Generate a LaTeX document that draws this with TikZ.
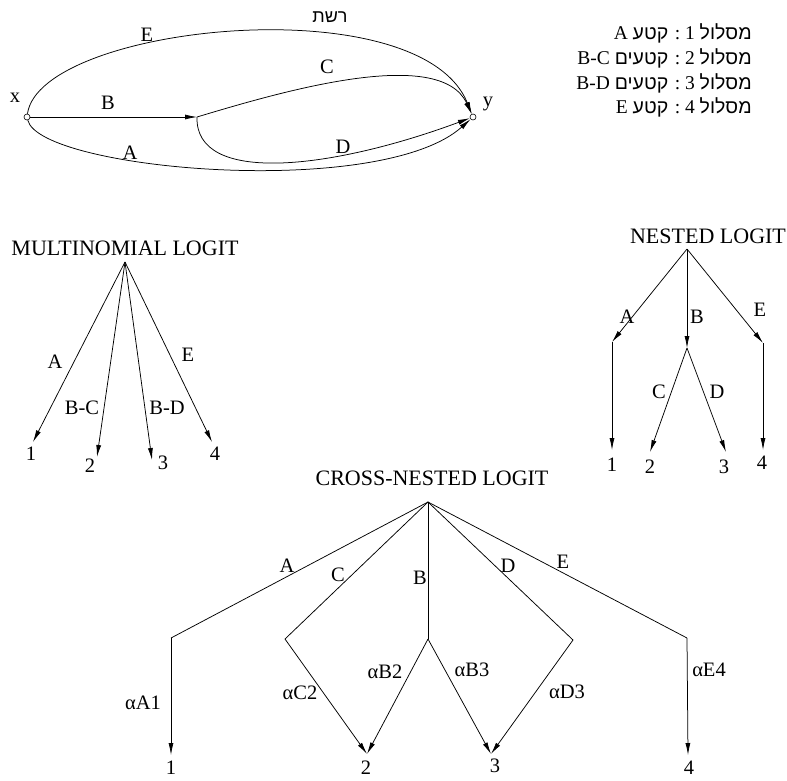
\documentclass[tikz,border=0pt]{standalone}
\usepackage{fontspec}
\setmainfont{Liberation Serif}
\newfontfamily\hebfont[Script=Hebrew]{Liberation Sans}
\TeXXeTstate=1
\usetikzlibrary{arrows.meta}
\newcommand{\heb}[1]{{\hebfont #1}}
\begin{document}
\begin{tikzpicture}[x=1pt,y=-1pt,line width=0.75pt,
  lbl/.style={font=\fontsize{20.5}{24}\selectfont,inner sep=0pt},
  ttl/.style={font=\fontsize{22}{26}\selectfont,inner sep=0pt},
  leg/.style={font=\fontsize{19.5}{23}\selectfont,inner sep=0pt,anchor=east},
  arr/.style={-{Latex[length=12pt,width=5pt]}},
  endpt/.style={circle,draw,inner sep=0pt,minimum size=6pt,line width=0.6pt}]
\useasboundingbox (0,0) rectangle (787,780);

% ---------- network ----------
\node[endpt] (X) at (27,117) {};
\node[endpt] (Y) at (473,117) {};
\coordinate (M) at (197,117);
\node[lbl] (xl) at (15,98) {x};
\node[lbl] (yl) at (488,104) {y};
\node[lbl,font=\hebfont\fontsize{18}{21}\selectfont] (net) at (330,17) {\beginR רשת\endR};

\draw[arr] (X) -- (M);
\draw[arr] (M) .. controls (280,92) and (440,45) .. (Y);
\draw[arr] (M) .. controls (195,185) and (330,170) .. (Y);
\draw[arr] (X) .. controls (40,25) and (420,-15) .. (Y);
\draw[arr] (X) .. controls (40,170) and (380,200) .. (Y);

\node[lbl] (tE) at (147,35) {E};
\node[lbl] (tC) at (327,67) {C};
\node[lbl] (tB) at (108,103) {B};
\node[lbl] (tD) at (343,147) {D};
\node[lbl] (tA) at (130,153) {A};

% ---------- routes ----------
\node[leg] (r1) at (752,33) {\beginR\heb{מסלול} 1 : \heb{קטע} A\endR};
\node[leg] (r2) at (752,58) {\beginR\heb{מסלול} 2 : \heb{קטעים} \beginL B-C\endL\endR};
\node[leg] (r3) at (752,83) {\beginR\heb{מסלול} 3 : \heb{קטעים} \beginL B-D\endL\endR};
\node[leg] (r4) at (752,107) {\beginR\heb{מסלול} 4 : \heb{קטע} E\endR};

% ---------- multinomial logit ----------
\node[ttl] (mt) at (125,248) {MULTINOMIAL LOGIT};
\coordinate (mr) at (125,262);
\coordinate (m1) at (33,442);
\coordinate (m2) at (97,457);
\coordinate (m3) at (152,460);
\coordinate (m4) at (212,442);
\draw[arr] (mr) -- (m1);
\draw[arr] (mr) -- (m2);
\draw[arr] (mr) -- (m3);
\draw[arr] (mr) -- (m4);
\node[lbl] (ml1) at (31,454) {1};
\node[lbl] (ml2) at (90,466) {2};
\node[lbl] (ml3) at (163,463) {3};
\node[lbl] (ml4) at (215,454) {4};
\node[lbl] (mA) at (55,362) {A};
\node[lbl] (mBC) at (82,408) {B-C};
\node[lbl] (mBD) at (167,408) {B-D};
\node[lbl] (mE) at (188,355) {E};

% ---------- nested logit ----------
\node[ttl] (nt) at (708,236) {NESTED LOGIT};
\coordinate (nr) at (687,249);
\coordinate (na) at (612,342);
\coordinate (nb) at (687,348);
\coordinate (ne) at (763,343);
\coordinate (n1) at (612,450);
\coordinate (n2) at (650,452);
\coordinate (n3) at (726,452);
\coordinate (n4) at (763,450);
\draw[arr] (nr) -- (na);
\draw[arr] (nr) -- (nb);
\draw[arr] (nr) -- (ne);
\draw[arr] (na) -- (n1);
\draw[arr] (nb) -- (n2);
\draw[arr] (nb) -- (n3);
\draw[arr] (ne) -- (n4);
\node[lbl] (nl1) at (612,465) {1};
\node[lbl] (nl2) at (650,467) {2};
\node[lbl] (nl3) at (724,467) {3};
\node[lbl] (nl4) at (762,463) {4};
\node[lbl] (nA) at (627,317) {A};
\node[lbl] (nB) at (697,317) {B};
\node[lbl] (nE) at (760,310) {E};
\node[lbl] (nC) at (659,392) {C};
\node[lbl] (nD) at (717,392) {D};

% ---------- cross-nested logit ----------
\node[ttl] (ct) at (432,478) {CROSS-NESTED LOGIT};
\coordinate (cr) at (428,502);
\coordinate (ca) at (171,638);
\coordinate (cc) at (285,639);
\coordinate (cb) at (428,639);
\coordinate (cd) at (573,640);
\coordinate (ce) at (687,638);
\coordinate (c1) at (171,755);
\coordinate (c2) at (367,754);
\coordinate (c3) at (491,754);
\coordinate (c4) at (688,755);
\draw (cr) -- (ca);
\draw (cr) -- (cc);
\draw (cr) -- (cb);
\draw (cr) -- (cd);
\draw (cr) -- (ce);
\draw[arr] (ca) -- (c1);
\draw[arr] (cc) -- (c2);
\draw[arr] (cb) -- (c2);
\draw[arr] (cb) -- (c3);
\draw[arr] (cd) -- (c3);
\draw[arr] (ce) -- (c4);
\node[lbl] (cl1) at (171,768) {1};
\node[lbl] (cl2) at (366,768) {2};
\node[lbl] (cl3) at (495,766) {3};
\node[lbl] (cl4) at (689,768) {4};
\node[lbl] (cA) at (287,566) {A};
\node[lbl] (cC) at (338,575) {C};
\node[lbl] (cB) at (420,578) {B};
\node[lbl] (cD) at (508,566) {D};
\node[lbl] (cE) at (563,562) {E};
\node[lbl] (aA1) at (143,703) {αA1};
\node[lbl] (aC2) at (300,693) {αC2};
\node[lbl] (aB2) at (385,672) {αB2};
\node[lbl] (aB3) at (472,670) {αB3};
\node[lbl] (aD3) at (567,692) {αD3};
\node[lbl] (aE4) at (709,670) {αE4};
\end{tikzpicture}
\end{document}
